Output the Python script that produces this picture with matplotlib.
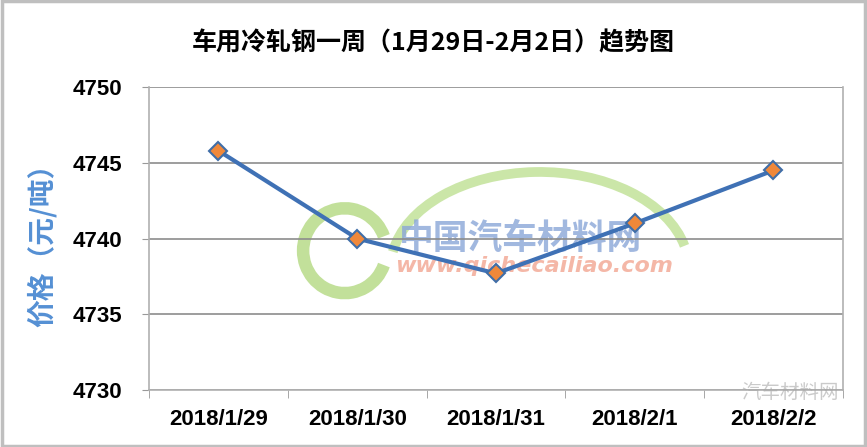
import matplotlib
matplotlib.use("Agg")
import matplotlib.pyplot as plt
from matplotlib.patches import Arc, Rectangle

plt.rcParams['font.family'] = ['Noto Sans CJK SC', 'DejaVu Sans']

dates = ["2018/1/29", "2018/1/30", "2018/1/31", "2018/2/1", "2018/2/2"]
prices = [4745.8, 4740.0, 4737.7, 4741.0, 4744.5]
yticks = [4730, 4735, 4740, 4745, 4750]

title = "车用冷轧钢一周（1月29日-2月2日）趋势图"
ylabel = "价格（元/吨）"

fig = plt.figure(figsize=(8.67, 4.47), dpi=100)
ax = fig.add_axes([0.172, 0.1275, 0.8, 0.6775])

# outer frame of the picture
fig.patches.append(Rectangle((0.002, 0.003), 0.996, 0.994, transform=fig.transFigure,
                             fill=False, edgecolor="#bfbfbf", linewidth=2.5))

# faint watermark
wm = ax.transAxes
ax.add_patch(Arc((0.563, 0.40), 0.43, 0.64, theta1=20, theta2=165, transform=wm,
                 color="#cbe6a8", linewidth=7, zorder=0))
ax.add_patch(Arc((0.282, 0.46), 0.12, 0.28, theta1=40, theta2=320, transform=wm,
                 color="#c2e09a", linewidth=9, zorder=0))
ax.text(0.36, 0.50, "中国汽车材料网", transform=wm, fontsize=25, fontweight="bold",
        color="#8aa6d8", alpha=0.8, style="italic", zorder=0, va="center")
ax.text(0.355, 0.41, "www.qichecailiao.com", transform=wm, fontsize=16, fontweight="bold",
        color="#f3ab98", alpha=0.85, style="italic", zorder=0, va="center",
        family="DejaVu Sans")
fig.text(0.855, 0.098, "汽车材料网", fontsize=14, color="#a8a8a8", alpha=0.6, va="bottom")

x = list(range(len(dates)))
ax.plot(x, prices, color="#3f71b5", linewidth=3, marker="D", markersize=9,
        markerfacecolor="#f0883a", markeredgecolor="#3f6ea8", markeredgewidth=1.5,
        zorder=3)

ax.set_xlim(-0.5, len(dates) - 0.5)
ax.set_ylim(4730, 4750)
ax.set_yticks(yticks)
ax.set_yticklabels([str(v) for v in yticks], fontsize=16, fontweight="bold",
                   family="Liberation Sans")
ax.set_xticks(x)
ax.set_xticklabels(dates, fontsize=16, fontweight="bold", family="Liberation Sans")
ax.set_xticks([i - 0.5 for i in range(len(dates) + 1)], minor=True)
ax.tick_params(axis="x", which="major", length=0, pad=14)
ax.tick_params(axis="x", which="minor", length=6, color="#999999")
ax.tick_params(axis="y", length=5, color="#999999", pad=14)

ax.grid(axis="y", color="#8c8c8c", linewidth=1.2)
ax.set_axisbelow(True)
for s in ["left", "right", "bottom"]:
    ax.spines[s].set_color("#b0b0b0")
    ax.spines[s].set_linewidth(1.2)
ax.spines["top"].set_visible(False)

ax.set_ylabel(ylabel, fontsize=20, fontweight="bold", color="#5590d4", labelpad=12)
fig.suptitle(title, fontsize=18, fontweight="bold", y=0.93)

fig.savefig("out.png", dpi=100)
